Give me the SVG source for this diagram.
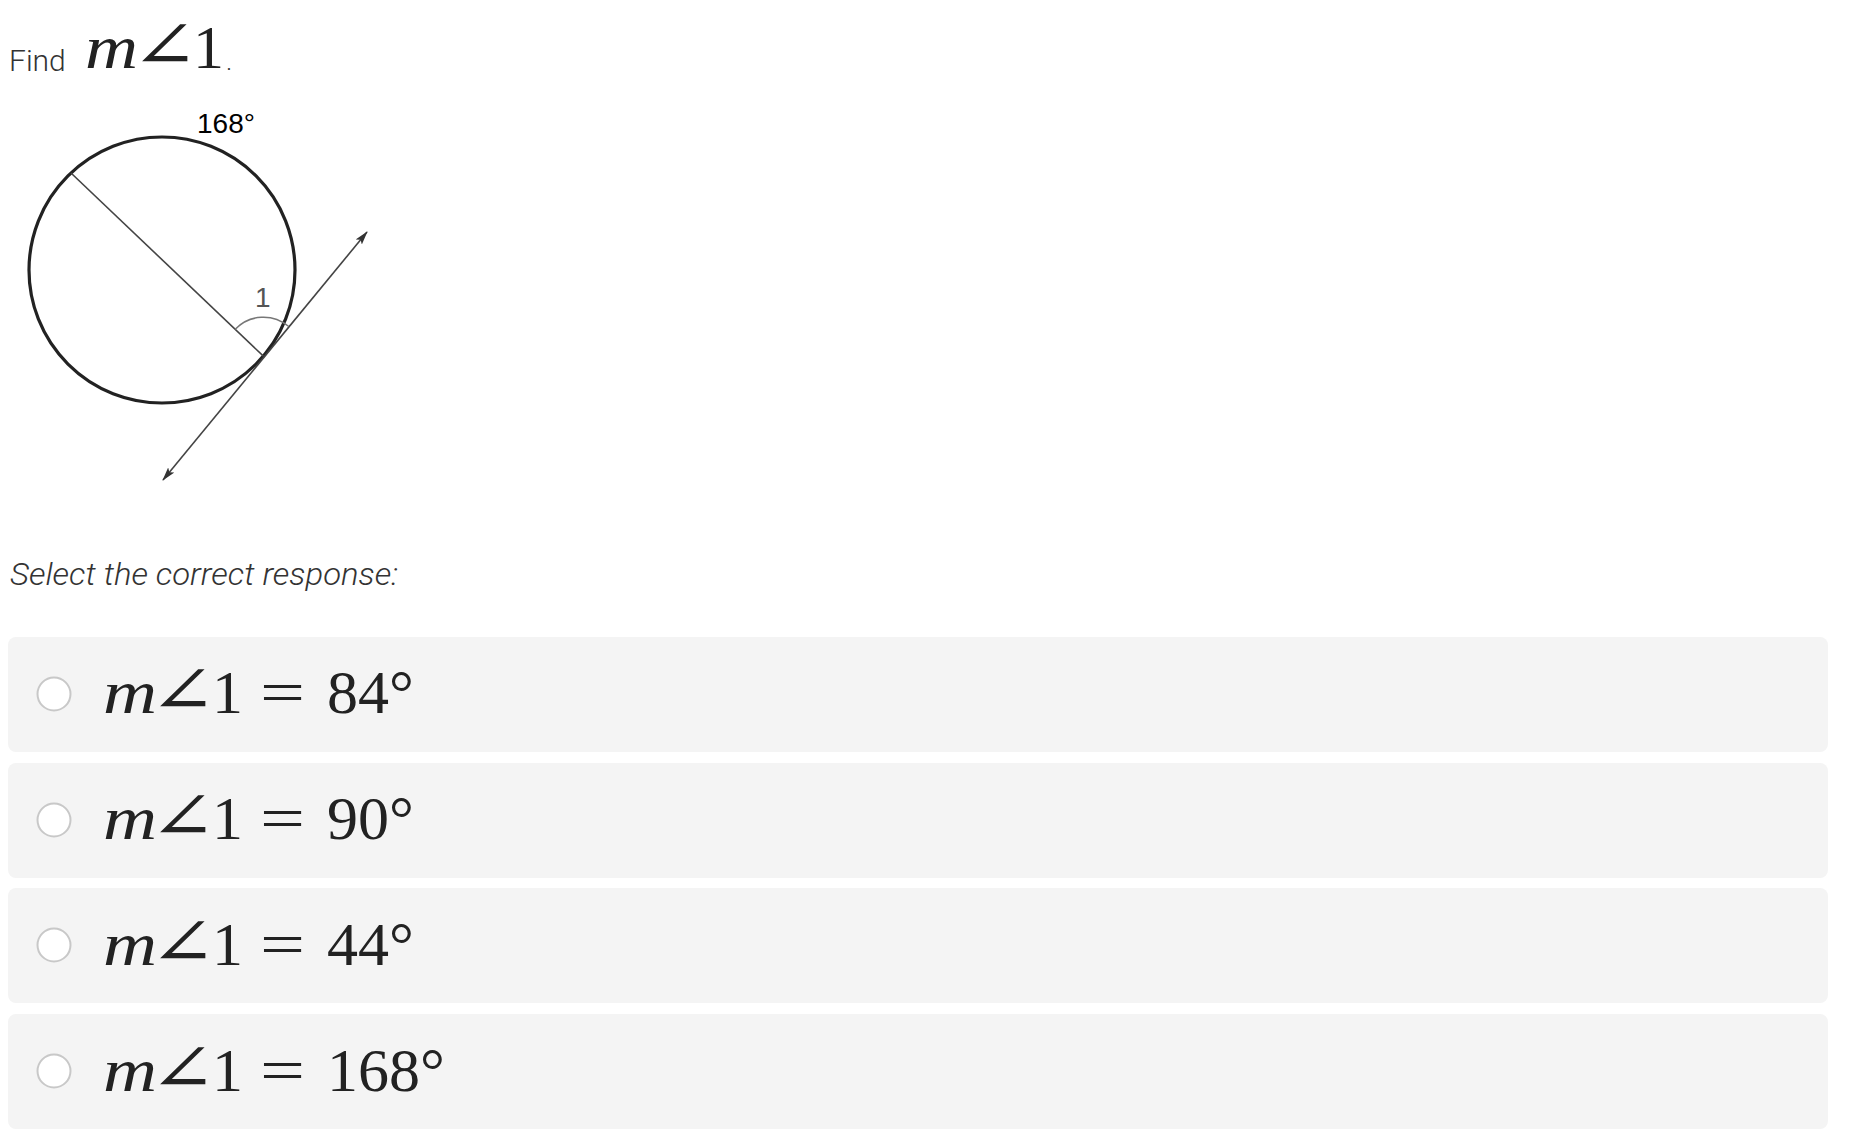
<svg xmlns="http://www.w3.org/2000/svg" width="1850" height="1148" viewBox="0 0 1850 1148">
<style>
.ui{font-family:Roboto,"Liberation Sans",sans-serif;font-weight:300;fill:#333}
.mi{font-family:"Liberation Serif",serif;font-style:italic;font-size:62px;fill:#222}
.mr{font-family:"Liberation Serif","DejaVu Serif",serif;font-size:62px;fill:#222}
.ang{font-family:"DejaVu Serif",serif;font-size:66px;fill:#222}
.box{fill:#f4f4f4}
.radio{fill:#fff;stroke:#c8c8c8;stroke-width:2}
.fig{font-family:"Liberation Sans",sans-serif;font-size:28px}
</style>
<defs>
<marker id="arr" viewBox="0 0 14 8" refX="13" refY="4" markerWidth="14" markerHeight="8" markerUnits="userSpaceOnUse" orient="auto-start-reverse">
<path d="M0,0 L14,4 L0,8 L3,4 z" fill="#333"/>
</marker>
</defs>
<rect width="1850" height="1148" fill="#fff"/>
<g id="title">
<text class="ui" x="9" y="71" font-size="30">Find</text>
<text class="mi" x="85" y="68" textLength="53" lengthAdjust="spacingAndGlyphs">m</text>
<text class="ang" transform="translate(131,68) scale(1.22,1)">∠</text>
<text class="mr" x="193" y="68">1</text>
<text class="ui" x="226" y="70" font-size="26">.</text>
</g>
<g id="figure">
<circle id="circle" cx="162" cy="270" r="133" fill="none" stroke="#222" stroke-width="3.2"/>
<text class="fig" x="197" y="133" fill="#000">168°</text>
<text class="fig" x="255" y="307" fill="#555">1</text>
</g>
<g id="connectors" fill="none">
<line id="chord" x1="71" y1="173" x2="263.4" y2="356.2" stroke="#444" stroke-width="1.6"/>
<line id="tangent" x1="163" y1="480" x2="367" y2="232" stroke="#444" stroke-width="1.6" marker-start="url(#arr)" marker-end="url(#arr)"/>
<path id="anglearc" d="M235.2,329.3 A39,39 0 0 1 288.5,326.3" stroke="#777" stroke-width="1.5"/>
</g>
<text class="ui" x="10" y="585" font-size="32" font-style="italic" font-weight="400" fill="#222" textLength="388" lengthAdjust="spacingAndGlyphs">Select the correct response:</text>
<g id="option1">
<rect class="box" x="8" y="637" width="1820" height="115" rx="8"/>
<circle class="radio" cx="54" cy="694" r="16.5"/>
<text class="mi" x="103" y="713" textLength="54" lengthAdjust="spacingAndGlyphs">m</text>
<text class="ang" transform="translate(149,713) scale(1.22,1)">∠</text>
<text class="mr" x="212" y="713">1</text>
<text class="mr" x="260" y="713" textLength="45" lengthAdjust="spacingAndGlyphs">=</text>
<text class="mr" x="327" y="713">84°</text>
</g>
<g id="option2">
<rect class="box" x="8" y="763" width="1820" height="115" rx="8"/>
<circle class="radio" cx="54" cy="820" r="16.5"/>
<text class="mi" x="103" y="839" textLength="54" lengthAdjust="spacingAndGlyphs">m</text>
<text class="ang" transform="translate(149,839) scale(1.22,1)">∠</text>
<text class="mr" x="212" y="839">1</text>
<text class="mr" x="260" y="839" textLength="45" lengthAdjust="spacingAndGlyphs">=</text>
<text class="mr" x="327" y="839">90°</text>
</g>
<g id="option3">
<rect class="box" x="8" y="888" width="1820" height="115" rx="8"/>
<circle class="radio" cx="54" cy="945" r="16.5"/>
<text class="mi" x="103" y="965" textLength="54" lengthAdjust="spacingAndGlyphs">m</text>
<text class="ang" transform="translate(149,965) scale(1.22,1)">∠</text>
<text class="mr" x="212" y="965">1</text>
<text class="mr" x="260" y="965" textLength="45" lengthAdjust="spacingAndGlyphs">=</text>
<text class="mr" x="327" y="965">44°</text>
</g>
<g id="option4">
<rect class="box" x="8" y="1014" width="1820" height="115" rx="8"/>
<circle class="radio" cx="54" cy="1071" r="16.5"/>
<text class="mi" x="103" y="1091" textLength="54" lengthAdjust="spacingAndGlyphs">m</text>
<text class="ang" transform="translate(149,1091) scale(1.22,1)">∠</text>
<text class="mr" x="212" y="1091">1</text>
<text class="mr" x="260" y="1091" textLength="45" lengthAdjust="spacingAndGlyphs">=</text>
<text class="mr" x="327" y="1091">168°</text>
</g>
</svg>
